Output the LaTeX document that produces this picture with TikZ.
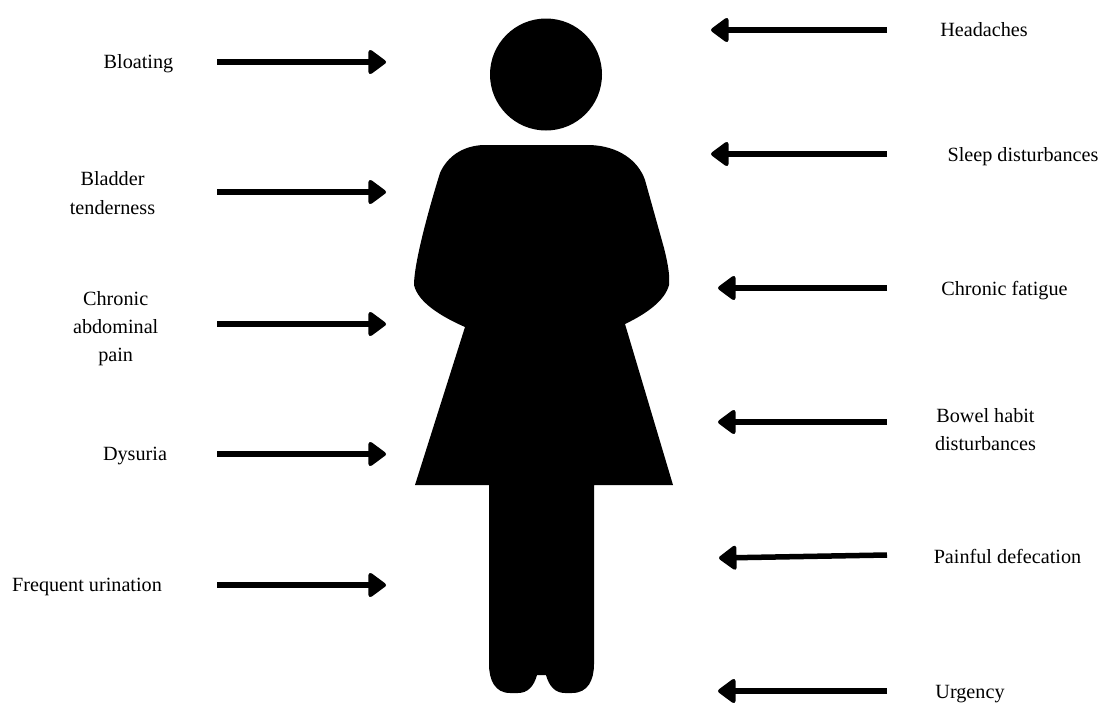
\documentclass[tikz,border=0pt]{standalone}
\usepackage{fontspec}
\setmainfont{Liberation Serif}
\usetikzlibrary{arrows.meta}
\tikzset{
  lbl/.style={font=\fontsize{20.2pt}{28pt}\selectfont, align=center, text=black, inner sep=0pt},
  arr/.style={line width=5.5pt, -{Triangle[round,length=19pt,width=27pt,line width=4pt]}},
  figure/.style={fill=black, draw=none}
}
\begin{document}
\begin{tikzpicture}[x=1pt,y=-1pt]
\useasboundingbox (0,0) rectangle (1101,702);
% figure
\fill[figure] (546,74.5) circle (56);
\fill[figure] (483,145) -- (590,145)
  .. controls (618,146) and (638,160) .. (645,180)
  -- (664,248)
  .. controls (668,264) and (670,276) .. (669,285)
  .. controls (665,300) and (648,313) .. (625,324)
  -- (673,485) -- (594,485) -- (594,664)
  .. controls (594,680) and (588,693) .. (572,693)
  -- (565,693)
  .. controls (555,693) and (549,686) .. (546,675)
  -- (537,675)
  .. controls (534,686) and (528,693) .. (518,693)
  -- (510,693)
  .. controls (495,693) and (489,680) .. (489,664)
  -- (489,485) -- (415,485) -- (465,327)
  .. controls (440,316) and (418,302) .. (414,285)
  .. controls (414,262) and (430,205) .. (440,173)
  .. controls (447,157) and (462,146) .. (483,145) -- cycle;
% labels
\node[lbl] (l1) at (138.5,64) {Bloating};
\node[lbl] (l2) at (112.5,193) {Bladder\\[1pt]tenderness};
\node[lbl] (l3) at (115.7,329) {Chronic\\abdominal\\pain};
\node[lbl] (l4) at (135,456) {Dysuria};
\node[lbl] (l5) at (87,587) {Frequent urination};
\node[lbl] (r1) at (984,30) {Headaches};
\node[lbl] (r2) at (1023,157) {Sleep disturbances};
\node[lbl] (r3) at (1004.5,291) {Chronic fatigue};
\node[lbl] (r4) at (985.5,429.5) {Bowel habit\\disturbances};
\node[lbl] (r5) at (1007.5,556) {Painful defecation};
\node[lbl] (r6) at (970,694) {Urgency};
% arrow ends
\foreach \n/\y in {1/62,2/192,3/324,4/454,5/585} {
  \coordinate (a\n) at (217,\y);
  \coordinate (b\n) at (386,\y);
  \draw[arr] (a\n) -- (b\n);
}
\foreach \n/\x/\ya/\yb in {1/711/30/30,2/711/154/154,3/718/288/288,4/718/422/422,5/719/555/558,6/718/691/691} {
  \coordinate (c\n) at (887,\ya);
  \coordinate (d\n) at (\x,\yb);
  \draw[arr] (c\n) -- (d\n);
}
\end{tikzpicture}
\end{document}
